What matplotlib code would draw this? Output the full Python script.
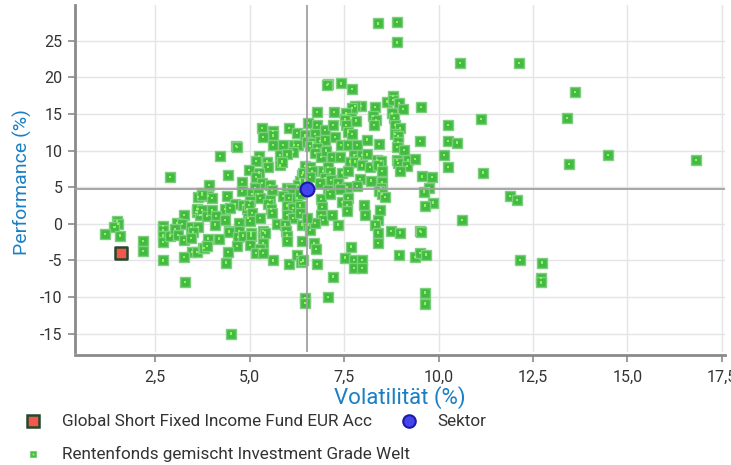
import matplotlib
matplotlib.use('Agg')
import matplotlib.pyplot as plt
from matplotlib.lines import Line2D
import numpy as np

# Peer group: Rentenfonds gemischt Investment Grade Welt (volatility %, performance %)
peer_vol = [
    8.40, 8.90, 8.90, 10.57, 7.08, 7.05, 7.42, 7.71, 8.80, 8.63,
    8.80, 8.95, 9.06, 9.54, 8.32, 7.95, 7.79, 7.71, 6.79, 7.24,
    7.55, 8.27, 8.77, 8.82, 7.52, 7.69, 7.82, 8.35, 10.25,
    12.13, 13.61, 11.12, 13.40, 14.48, 13.45, 16.81, 11.18,
    11.89, 12.08, 10.62, 12.16, 12.74, 12.71, 12.71,
    2.90, 1.49, 1.52, 1.42, 1.18, 1.57, 2.18, 2.18, 2.71, 2.71,
    2.71, 2.71, 2.90, 2.71, 3.27, 3.08, 3.21, 3.03, 3.11, 3.27,
    3.45, 3.64, 3.51, 3.45, 3.48, 3.61, 3.27, 3.29, 3.64, 3.74,
    3.60, 3.70, 3.62, 3.77,
    5.33, 5.62, 5.62, 5.36, 6.05, 6.26, 6.47, 5.62, 5.89, 6.18,
    6.28, 4.64, 4.66, 6.15, 5.81, 5.99, 5.25, 5.17, 5.46, 5.49,
    5.81, 5.86, 4.22, 4.99, 5.25, 4.43, 5.17, 4.80, 5.33, 5.54,
    3.93, 6.39, 6.34, 6.28, 6.47, 6.47, 6.42, 4.80, 5.14, 5.59,
    5.99, 6.10, 5.89, 6.05, 6.26, 6.34, 3.90, 3.74, 4.01, 4.41,
    5.07, 5.23, 5.28, 5.54, 5.01, 4.62, 4.35, 4.48, 4.83, 4.93,
    4.99, 5.49, 5.57, 5.59, 5.99, 6.15, 6.34, 5.99, 6.15, 6.34,
    3.74, 3.88, 4.01, 4.11, 4.35, 4.09, 4.96, 5.07, 4.72, 5.01,
    5.28, 5.73, 5.94, 4.46, 4.72, 5.04, 5.36, 5.97, 6.39,
    6.55, 6.79, 7.00, 7.21, 7.53, 7.55, 7.61, 7.71, 8.29, 8.85,
    8.98, 8.85, 8.93, 9.51, 10.25, 10.49, 6.73, 6.52, 6.68, 6.87,
    7.00, 7.26, 7.42, 7.61, 7.84, 8.11, 8.42, 8.93, 8.90, 9.08,
    6.60, 6.79, 6.73, 6.89, 7.02, 7.18, 7.39, 7.76, 7.89, 7.97,
    8.11, 7.66, 7.79, 7.97, 8.18, 8.37, 8.48, 8.40, 8.50, 8.90,
    8.93, 9.19, 9.17, 8.98, 9.38, 10.15, 10.25, 6.60, 6.65, 6.94,
    7.08, 7.13, 7.45, 7.61, 7.00, 7.16, 7.34, 7.92, 6.60, 6.87,
    8.21, 8.50, 8.48, 7.84, 7.58, 7.39, 7.08, 9.56, 9.83, 9.75,
    9.62, 9.85, 9.64, 8.42, 8.50, 8.58, 6.89, 7.13, 7.45, 7.61,
    7.58, 7.58, 6.92, 6.89, 6.94, 7.18, 7.34, 8.03, 8.06, 8.45,
    8.40, 8.32, 8.74, 8.98, 9.51, 6.55, 6.60, 6.73, 6.52,
    3.90, 3.80, 3.88, 4.19, 4.46, 4.70, 4.83, 4.67, 4.43, 4.38,
    5.04, 5.01, 5.36, 5.36, 5.28, 5.17, 5.36, 5.41, 5.62, 5.99,
    5.99, 6.05, 6.26, 6.36, 6.42, 6.39, 6.71, 6.76, 6.79, 6.47,
    6.47, 7.08, 7.21, 7.53, 7.68, 7.76, 7.97, 7.76, 7.97, 8.40,
    8.40, 8.96, 9.38, 9.51, 9.67, 9.54, 9.64, 9.64, 4.51,
]
peer_perf = [
    27.4, 27.6, 24.8, 22.0, 19.1, 19.0, 19.2, 18.4, 17.5, 16.7,
    16.9, 16.5, 15.7, 16.0, 16.0, 16.1, 16.1, 15.8, 15.3, 15.3,
    15.1, 14.7, 15.1, 14.5, 14.3, 14.5, 14.1, 14.2, 13.5,
    22.0, 18.0, 14.3, 14.5, 9.4, 8.2, 8.7, 7.0,
    3.8, 3.3, 0.5, -4.9, -5.3, -7.4, -8.0,
    6.4, 0.4, 0.0, -0.4, -1.4, -1.6, -2.3, -3.7, -0.3, -0.8,
    -1.6, -2.5, -1.6, -5.0, 1.2, 0.1, 0.0, -0.7, -1.5, -2.2,
    -0.4, -0.4, -1.1, -1.9, -3.8, -3.8, -4.5, -7.9, 3.7, 4.2,
    1.6, 1.2, 2.0, -3.3,
    13.1, 12.7, 12.1, 11.9, 13.1, 12.4, 12.1, 10.8, 10.8, 10.8,
    10.8, 10.6, 10.5, 9.8, 9.4, 9.5, 9.3, 8.6, 8.5, 7.8,
    8.0, 8.5, 9.3, 7.4, 7.0, 6.7, 6.4, 5.7, 5.6, 5.3,
    5.3, 6.7, 5.9, 5.3, 5.9, 7.9, 7.0, 4.5, 4.9, 4.6,
    4.9, 4.8, 3.8, 3.5, 3.5, 4.1, 3.8, 4.0, 3.5, 3.8,
    4.1, 4.1, 3.5, 3.3, 3.1, 2.7, 2.0, 2.2, 2.6, 2.0,
    2.6, 2.7, 2.0, 1.5, 2.5, 2.2, 2.5, 1.2, 0.8, 1.5,
    1.9, 1.1, 1.9, 1.1, 0.5, -0.1, 0.8, 1.5, 0.1, 0.4,
    0.8, 0.0, -0.1, -1.0, -1.0, -1.2, -1.0, -1.0, -0.1,
    13.8, 13.5, 12.8, 13.5, 14.2, 13.5, 12.6, 12.3, 13.5, 13.5,
    13.1, 12.3, 12.0, 11.3, 11.3, 11.1, 12.3, 11.2, 11.1, 11.3,
    11.5, 11.9, 10.8, 10.8, 10.8, 11.5, 10.9, 11.2, 10.5, 10.1,
    10.6, 10.4, 9.7, 9.1, 10.0, 9.1, 9.1, 9.4, 8.9, 9.4,
    9.5, 8.5, 8.5, 8.0, 7.8, 8.7, 8.6, 8.0, 7.2, 8.7,
    8.3, 8.7, 7.9, 7.2, 8.9, 9.4, 7.8, 7.8, 7.2, 7.2,
    7.8, 7.1, 7.0, 7.2, 6.3, 6.0, 5.6, 6.1, 6.4, 5.6,
    5.9, 5.7, 4.9, 5.2, 5.0, 4.8, 4.6, 6.5, 6.4, 4.9,
    4.4, 2.9, 2.5, 4.5, 4.1, 3.7, 3.4, 4.1, 3.0, 3.5,
    2.6, 1.8, 2.3, 1.2, 0.5, 1.2, -0.1, 2.6, 1.2, 1.9,
    0.5, -0.1, -1.0, -1.2, -1.0, -0.1, -0.8, 0.1, 0.8,
    -2.0, -3.3, -3.0, -2.0, -1.1, -1.8, -1.6, -3.0, -3.8, -5.3,
    -1.6, -2.9, -1.8, -2.6, -3.4, -4.0, -4.0, -1.2, -5.0, -1.6,
    -2.3, -5.5, -4.2, -5.2, -5.0, -2.3, -2.6, -3.4, -5.5, -10.1,
    -10.8, -10.0, -7.2, -4.6, -3.1, -4.9, -4.9, -6.0, -6.0, -1.2,
    -2.6, -4.2, -4.5, -4.0, -4.2, -1.1, -9.4, -10.9, -15.0,
]

fund_vol = [1.60]
fund_perf = [-3.96]
sector_vol = [6.52]
sector_perf = [4.75]

x_ticks = [2.5, 5.0, 7.5, 10.0, 12.5, 15.0, 17.5]
x_labels = ['2,5', '5,0', '7,5', '10,0', '12,5', '15,0', '17,5']
y_ticks = [-15, -10, -5, 0, 5, 10, 15, 20, 25]
y_labels = ['-15', '-10', '-5', '0', '5', '10', '15', '20', '25']

fund_name = 'Global Short Fixed Income Fund EUR Acc'
sector_name = 'Sektor'
peer_name = 'Rentenfonds gemischt Investment Grade Welt'

GREEN = '#43bb43'
GREEN_EDGE = '#7dcf7d'
GREEN_DOT = '#8ef55c'
TEXT = '#333333'
BLUE_LABEL = '#1b7fc4'
AXIS = '#8a8a8a'

plt.rcParams['font.family'] = ['Roboto', 'DejaVu Sans']

fig = plt.figure(figsize=(7.31, 4.65), dpi=100)
ax = fig.add_axes([75 / 731, 1 - 352 / 465, 650 / 731, 347 / 465])

ax.set_xlim(0.38, 17.58)
ax.set_ylim(-17.5, 29.9)

# Grid
ax.set_xticks(x_ticks)
ax.set_xticklabels(x_labels)
ax.set_yticks(y_ticks)
ax.set_yticklabels(y_labels)
ax.grid(True, color='#e4e4e6', linewidth=1.0, zorder=0)
ax.set_axisbelow(True)

# Peer funds
ax.scatter(peer_vol, peer_perf, s=44, marker='s', facecolor=GREEN,
           edgecolor=GREEN_EDGE, linewidth=1.0, zorder=2)
ax.scatter(peer_vol, peer_perf, s=3, marker='s', facecolor=GREEN_DOT,
           edgecolor='none', zorder=3)

# Sector reference lines
ax.axvline(sector_vol[0], color='#a0a0a0', linewidth=1.3, zorder=4)
ax.axhline(sector_perf[0], color='#a0a0a0', linewidth=1.3, zorder=4)

ax.scatter(fund_vol, fund_perf, s=80, marker='s', facecolor='#f4574b',
           edgecolor='#23482a', linewidth=1.8, zorder=5)
ax.scatter(sector_vol, sector_perf, s=100, marker='o', facecolor='#4444ee',
           edgecolor='#1a1aa8', linewidth=1.5, zorder=6)

for side in ['top', 'right']:
    ax.spines[side].set_visible(False)
for side in ['left', 'bottom']:
    ax.spines[side].set_color(AXIS)
    ax.spines[side].set_linewidth(2)
ax.spines['bottom'].set_position(('outward', 2))

ax.tick_params(axis='both', colors=AXIS, labelcolor=TEXT, labelsize=11.5,
               length=5, width=1.2)
ax.tick_params(axis='y', pad=4)
ax.tick_params(axis='x', pad=6)

ax.set_xlabel('Volatilität (%)', color=BLUE_LABEL, fontsize=16, labelpad=1)
ax.set_ylabel('Performance (%)', color=BLUE_LABEL, fontsize=14)
ax.yaxis.set_label_coords(-0.066, 0.49)

# Legend below the plot
legend_font = dict(color=TEXT, fontsize=12.3, va='center', ha='left')
fig.add_artist(Line2D([33 / 731], [1 - 421 / 465], marker='s', markersize=8,
                      markerfacecolor='#f4574b', markeredgecolor='#23482a',
                      markeredgewidth=1.8, linestyle='none'))
fig.text(62 / 731, 1 - 421 / 465, fund_name, **legend_font)
fig.add_artist(Line2D([409 / 731], [1 - 421 / 465], marker='o', markersize=9,
                      markerfacecolor='#4444ee', markeredgecolor='#1a1aa8',
                      markeredgewidth=1.5, linestyle='none'))
fig.text(437 / 731, 1 - 421 / 465, sector_name, **legend_font)
fig.add_artist(Line2D([33 / 731], [1 - 454 / 465], marker='s', markersize=5,
                      markerfacecolor=GREEN, markeredgecolor=GREEN_EDGE,
                      markeredgewidth=0.8, linestyle='none'))
fig.add_artist(Line2D([33 / 731], [1 - 454 / 465], marker='s', markersize=1.5,
                      markerfacecolor=GREEN_DOT, markeredgecolor='none',
                      linestyle='none'))
fig.text(62 / 731, 1 - 454 / 465, peer_name, **legend_font)

fig.savefig('out.png', dpi=100)
